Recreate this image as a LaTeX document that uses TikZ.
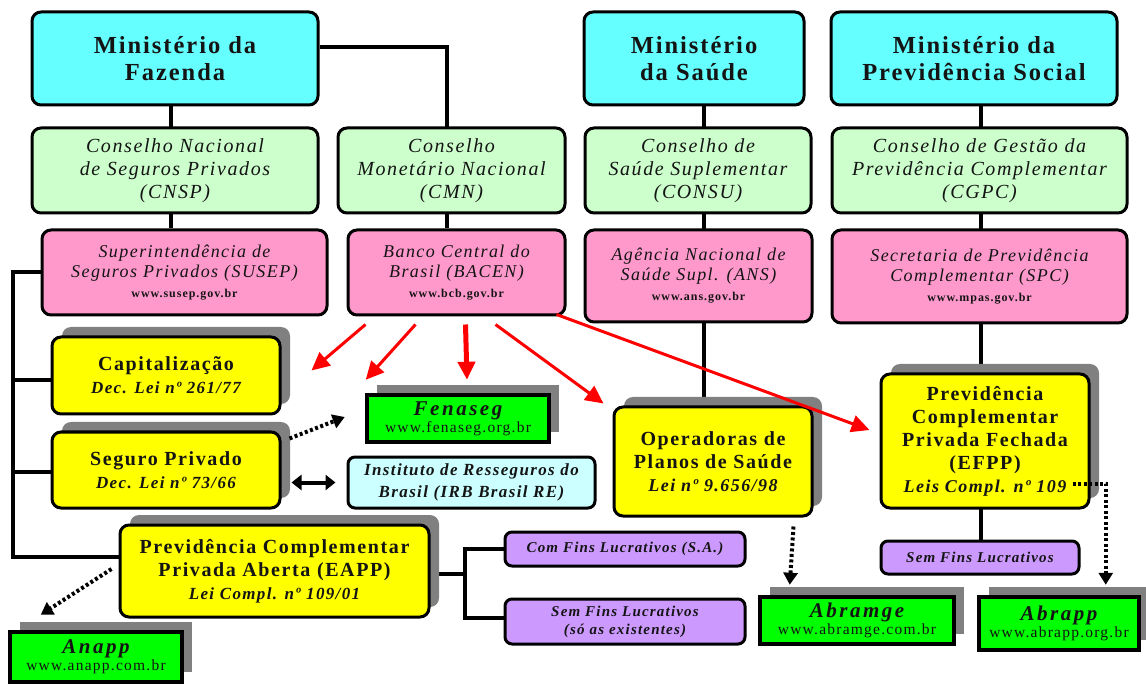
\documentclass[tikz,border=0pt]{standalone}
\usepackage{fontspec}
\setmainfont{Liberation Serif}
\newfontfamily\wfont[LetterSpace=8]{Liberation Serif}
\newfontfamily\xfont[LetterSpace=12]{Liberation Serif}
\usetikzlibrary{arrows.meta,shadows,calc,backgrounds}
\definecolor{cyanbox}{HTML}{66FFFF}
\definecolor{lgreen}{HTML}{CCFFCC}
\definecolor{pinkbox}{HTML}{FF99CC}
\definecolor{ybox}{HTML}{FFFF00}
\definecolor{gbox}{HTML}{00FF00}
\definecolor{lcyan}{HTML}{CCFFFF}
\definecolor{pbox}{HTML}{CC99FF}
\definecolor{shad}{HTML}{808080}
\definecolor{txt}{HTML}{141414}
\definecolor{redline}{HTML}{FF0000}
\begin{document}
\begin{tikzpicture}[x=1pt,y=-1pt,
  bb/.style n args={4}{minimum width={(#3)-(#1)}, minimum height={(#4)-(#2)},
     at={({((#1)+(#3))/2},{((#2)+(#4))/2})}},
  box/.style={draw=black, line width=3pt, rounded corners=9pt, align=center,
     inner sep=0pt, text=txt},
  mini/.style={box, fill=cyanbox, font=\wfont\bfseries\fontsize{24.5}{27}\selectfont},
  cons/.style={box, fill=lgreen, font=\wfont\itshape\fontsize{20}{23}\selectfont},
  agen/.style={box, fill=pinkbox, font=\wfont\itshape\fontsize{18}{20}\selectfont},
  shadowed/.style={drop shadow={shadow xshift=10pt, shadow yshift=10pt, fill=shad, opacity=1}},
  yel/.style={box, fill=ybox, shadowed, font=\wfont\bfseries\fontsize{20}{23}\selectfont},
  grn/.style={draw=black, line width=4.5pt, fill=gbox, align=center, inner sep=0pt,
     text=txt, shadowed, font=\xfont\bfseries\itshape\fontsize{21}{17}\selectfont},
  url/.style={},
  pur/.style={box, fill=pbox, rounded corners=7pt, font=\wfont\bfseries\itshape\fontsize{15}{18}\selectfont},
  irbs/.style={box, fill=lcyan, rounded corners=7pt, font=\wfont\bfseries\itshape\fontsize{17}{22}\selectfont},
  conn/.style={draw=black, line width=4pt},
  redarr/.style={draw=redline, line width=3pt, -{Triangle[length=18pt,width=17pt]}},
  dotarr/.style={draw=black, line width=4pt, dash pattern=on 3pt off 2.5pt, -{Triangle[length=12pt,width=14pt]}},
]
\useasboundingbox (0,0) rectangle (1146,684);

% ministries
\node[mini, bb={32}{12}{318}{105}] (fazenda) {Ministério da\\Fazenda};
\node[mini, bb={584}{12}{804}{105}] (saude) {Ministério\\da Saúde};
\node[mini, bb={831}{12}{1117}{105}] (prev) {Ministério da\\Previdência Social};

% councils
\node[cons, bb={32}{128}{318}{213}] (cnsp) {Conselho Nacional\\de Seguros Privados\\(CNSP)};
\node[cons, bb={338}{128}{565}{213}] (cmn) {Conselho\\Monetário Nacional\\(CMN)};
\node[cons, bb={585}{128}{811}{213}] (consu) {Conselho de\\Saúde Suplementar\\(CONSU)};
\node[cons, bb={832}{128}{1127}{213}] (cgpc) {Conselho de Gestão da\\Previdência Complementar\\(CGPC)};

% agencies
\node[agen, bb={42}{230}{327}{315}] (susep) {Superintendência de\\Seguros Privados (SUSEP)\\{\upshape\bfseries\fontsize{12}{15}\selectfont www.susep.gov.br}};
\node[agen, bb={348}{230}{565}{315}] (bacen) {Banco Central do\\Brasil (BACEN)\\{\upshape\bfseries\fontsize{12}{15}\selectfont www.bcb.gov.br}};
\node[agen, bb={585}{230}{812}{322}] (ans) {Agência Nacional de\\Saúde Supl. (ANS)\\{\upshape\bfseries\fontsize{12}{15}\selectfont www.ans.gov.br}};
\node[agen, bb={832}{230}{1127}{323}] (spc) {Secretaria de Previdência\\Complementar (SPC)\\{\upshape\bfseries\fontsize{12}{15}\selectfont www.mpas.gov.br}};

% yellow boxes
\node[yel, bb={52}{337}{280}{414}] (capit) {Capitalização\\{\itshape\fontsize{17}{20}\selectfont Dec. Lei nº 261/77}};
\node[yel, bb={52}{432}{280}{508}] (seguro) {Seguro Privado\\{\itshape\fontsize{17}{22}\selectfont Dec. Lei nº 73/66}};
\node[yel, bb={120}{525}{429}{617}] (eapp) {Previdência Complementar\\Privada Aberta (EAPP)\\{\itshape\fontsize{17}{23}\selectfont Lei Compl. nº 109/01}};
\node[yel, bb={614}{407}{812}{516}] (oper) {Operadoras de\\Planos de Saúde\\{\itshape\fontsize{18}{26}\selectfont Lei nº 9.656/98}};
\node[yel, bb={881}{374}{1089}{508}] (efpp) {Previdência\\Complementar\\Privada Fechada\\(EFPP)\\{\itshape\fontsize{18}{20}\selectfont Leis Compl. nº 109}};

% green boxes
\node[grn, bb={367}{395}{549}{442}] (fenaseg) {Fenaseg\\{\wfont\upshape\mdseries\fontsize{15.5}{16}\selectfont www.fenaseg.org.br}};
\node[grn, bb={10}{632}{182}{682}] (anapp) {Anapp\\{\wfont\upshape\mdseries\fontsize{15.5}{16}\selectfont www.anapp.com.br}};
\node[grn, bb={760}{597}{954}{644}] (abramge) {Abramge\\{\wfont\upshape\mdseries\fontsize{15.5}{16}\selectfont www.abramge.com.br}};
\node[grn, bb={979}{597}{1139}{650}] (abrapp) {Abrapp\\{\wfont\upshape\mdseries\fontsize{15.5}{16}\selectfont www.abrapp.org.br}};

% IRB
\node[irbs, bb={348}{457}{595}{508}] (irb) {Instituto de Resseguros do\\Brasil (IRB Brasil RE)};

% purple
\node[pur, bb={505}{532}{745}{566}] (confins) {Com Fins Lucrativos (S.A.)};
\node[pur, bb={505}{599}{745}{644}, font=\wfont\bfseries\itshape\fontsize{15}{18}\selectfont] (semfins) {Sem Fins Lucrativos\\(só as existentes)};
\node[pur, bb={881}{541}{1079}{574}] (semfins2) {Sem Fins Lucrativos};

% helper x positions
\coordinate (fx) at (171,0);
\coordinate (cx) at (447,0);
\coordinate (sx) at (704,0);
\coordinate (px) at (981,0);
\coordinate (tx) at (13,0);
\coordinate (bx) at (465,0);

\begin{scope}[on background layer]
\fill[white] (0,0) rectangle (1146,684);
\draw[conn] (fazenda.south -| fx) -- (susep.north -| fx);
\draw[conn] ($(fazenda.east)+(0,-11.5)$) -| (bacen.north -| cx);
\draw[conn] (saude.south -| sx) -- (oper.north -| sx);
\draw[conn] (prev.south -| px) -- (semfins2.north -| px);
\draw[conn] (susep.west) -| ($(eapp.west -| tx)+(0,-14)$) -- ($(eapp.west)+(0,-14)$);
\draw[conn] ($(capit.west -| tx)+(0,5)$) -- ($(capit.west)+(0,5)$);
\draw[conn] ($(seguro.west -| tx)+(0,2)$) -- ($(seguro.west)+(0,2)$);
\draw[conn] ($(eapp.east)+(0,3)$) -- ($(eapp.east -| bx)+(0,3)$);
\draw[conn] (confins.west) -- (confins.west -| bx) -- ($(semfins.west -| bx)+(0,-4)$) -- ($(semfins.west)+(0,-4)$);
\end{scope}

% black arrows
\draw[draw=black, line width=4pt, {Triangle[length=10pt,width=15pt]}-{Triangle[length=10pt,width=15pt]}]
  ($(seguro.east |- irb.west)+(10,0)$) -- ($(irb.west)+(-11,0)$);
\draw[dotarr] ($(seguro.north east)+(8,8)$) -- ($(fenaseg.west)+(-20,-1.5)$);
\draw[dotarr] ($(eapp.west)+(-7,-2)$) -- ($(anapp.north west)+(33,-15)$);
\draw[dotarr] ($(oper.south east)+(-20,9)$) -- ($(abramge.north west)+(32,-10)$);
\draw[dotarr] ($(efpp.south east)+(-18,-26)$) -| ($(abrapp.north west)+(129,-10)$);

% red arrows
\draw[redarr] ($(bacen.south west)+(19,8)$) -- ($(capit.north east)+(30,35)$);
\draw[redarr] ($(bacen.south west)+(69,8)$) -- ($(fenaseg.north west)+(1,-13)$);
\draw[redarr, line width=5pt] ($(bacen.south west)+(119,8)$) -- ($(fenaseg.north)+(9,-13)$);
\draw[redarr] ($(bacen.south west)+(149,8)$) -- ($(oper.north west)+(-9,-2)$);
\draw[redarr] ($(bacen.south east)+(-10,-2)$) -- ($(efpp.west)+(-10,-11)$);
\end{tikzpicture}
\end{document}
